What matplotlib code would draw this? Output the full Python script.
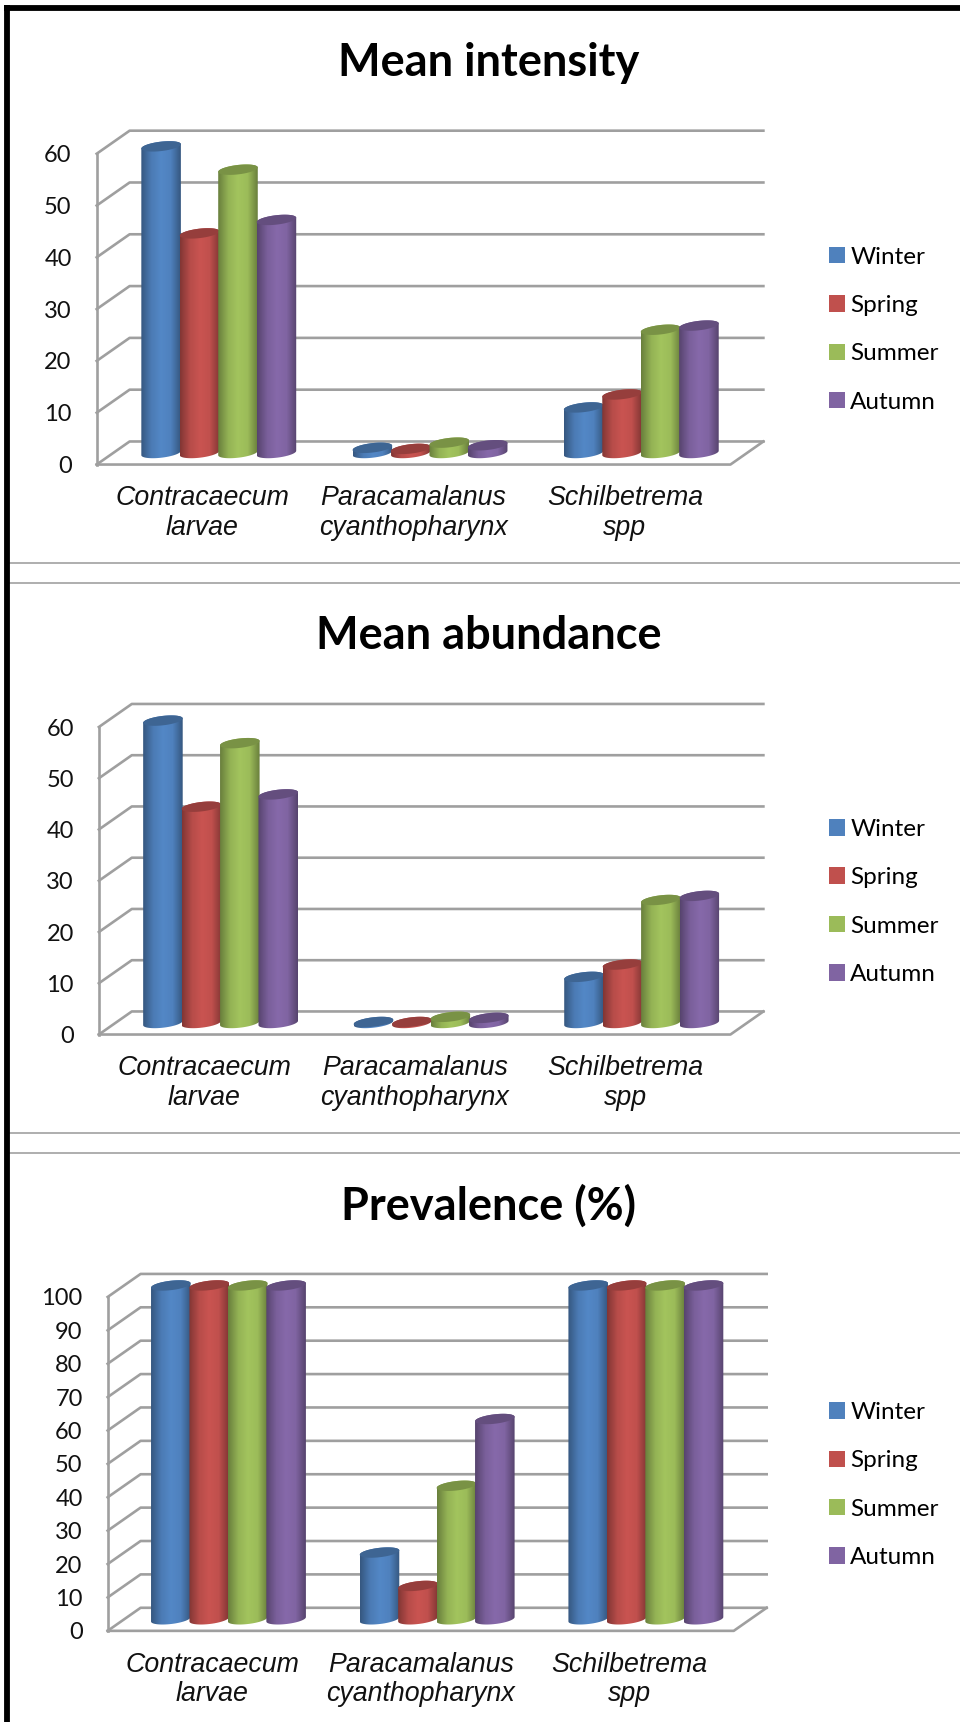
import numpy as np
import matplotlib
matplotlib.use('Agg')
import matplotlib.pyplot as plt
from matplotlib.colors import LinearSegmentedColormap, to_rgb
from matplotlib.lines import Line2D
from matplotlib.patches import Patch, PathPatch, Polygon
from matplotlib.path import Path

categories = ['Contracaecum\nlarvae', 'Paracamalanus\ncyanthopharynx', 'Schilbetrema\nspp']
seasons = ['Winter', 'Spring', 'Summer', 'Autumn']
colors = ['#4F81BD', '#C0504D', '#9BBB59', '#8064A2']

intensity = [[59.2, 1.0, 8.8], [42.4, 0.8, 11.3], [54.7, 2.0, 23.8], [45, 1.5, 24.6]]
abundance = [[59, 0.2, 9], [42.2, 0.2, 11.4], [54.6, 1.2, 24], [44.6, 1, 24.8]]
prevalence = [[100, 20, 100], [100, 10, 100], [100, 40, 100], [100, 60, 100]]

W, H = 874.0, 1568.0  # coords
GRID = '#9f9f9f'

fig = plt.figure(figsize=(9.6, 17.22), dpi=100)


def fx(x):
    return x / W


def fy(y):
    return 1 - y / H


def arc(cx, cy, a, b, k, t):
    return np.column_stack([cx + a * np.cos(t), cy + b * np.sin(t) + k * np.cos(t)])


def cylinder(ax, cx, h, a, base, b, k, color, z):
    # body with a horizontal shading, clipped to the cylinder outline
    rgb = np.array(to_rgb(color))
    cmap = LinearSegmentedColormap.from_list('c', [rgb * 0.68, rgb * 0.95, rgb * 1.05, rgb * 1.0, rgb * 0.68])
    low = arc(cx, base, a, b, k, np.linspace(np.pi, 2 * np.pi, 30))
    high = arc(cx, base + h, a, b, k, np.linspace(0, np.pi, 30))
    pts = np.vstack([low, high, low[:1]])
    im = ax.imshow(np.linspace(0, 1, 64).reshape(1, -1), cmap=cmap, aspect='auto', zorder=z,
                   extent=[cx - a, cx + a, base - b - k, base + h + b + k], vmin=0, vmax=1)
    im.set_clip_path(PathPatch(Path(pts), transform=ax.transData))
    top = arc(cx, base + h, a, b, k, np.linspace(0, 2 * np.pi, 60))
    ax.add_patch(Polygon(top, closed=True, fc=rgb * 0.78, ec='none', zorder=z + 0.1))


def panel(title, values, ticks, left, right, front, y0, ytop, back0, title_y, legend_y):
    ymax = ticks[-1]
    per_px = ymax / (y0 - ytop)  # value units for one px
    cat_px = (front - left) / 3.0
    dx = (right - front) / cat_px
    dy = (y0 - back0) * per_px
    backtop = ytop - (y0 - back0)

    ax = fig.add_axes([fx(left), fy(y0), (right - left) / W, (y0 - backtop) / H])
    ax.patch.set_alpha(0)
    for s in ax.spines.values():
        s.set_visible(False)

    # walls and floor
    for v in ticks:
        ax.plot([0, dx, 3 + dx], [v, v + dy, v + dy], color=GRID, lw=1.9, zorder=1, clip_on=False)
    ax.plot([0, 0], [0, ymax], color=GRID, lw=1.9, zorder=1, clip_on=False)
    ax.plot([0, 3, 3 + dx], [0, 0, dy], color=GRID, lw=1.9, zorder=1, clip_on=False)

    w = 35.0 / cat_px
    for j, series in enumerate(values):
        for i, v in enumerate(series):
            cx = i + dx / 2 + 0.5 + (j - 1.5) * w
            cylinder(ax, cx, v, 18.0 / cat_px, dy / 2, 4.3 * per_px, 2.0 * per_px, colors[j], 3 + j)

    ax.set_xlim(0, 3 + dx)
    ax.set_ylim(0, ymax + dy)
    ax.set_yticks(ticks)
    ax.set_yticklabels([str(t) for t in ticks], fontfamily='Lato', fontsize=17, color='#111111',
                       va='center_baseline')
    ax.set_xticks(np.arange(3) + 0.5)
    ax.set_xticklabels(categories, fontfamily='Liberation Sans', fontstyle='italic', fontsize=19.3,
                       linespacing=1.16, color='#111111')
    ax.tick_params(axis='y', length=0, pad=18)
    ax.tick_params(axis='x', length=0, pad=15)

    fig.text(fx(445), fy(title_y), title, ha='center', va='center', fontfamily='Lato',
             fontweight='bold', fontsize=32.5, color='black')

    handles = [Patch(fc=c, ec='none') for c in colors]
    fig.legend(handles, seasons, loc='upper left', bbox_to_anchor=(fx(748.5), fy(legend_y)), frameon=False,
               prop={'family': 'Lato', 'size': 17.5}, handlelength=0.66, handleheight=0.66,
               handletextpad=0.2, labelspacing=1.125, borderpad=0.3, borderaxespad=0)


panel('Mean intensity', intensity, [0, 10, 20, 30, 40, 50, 60], 88, 695, 665, 423, 140, 402, 57, 218)
panel('Mean abundance', abundance, [0, 10, 20, 30, 40, 50, 60], 90, 695, 665, 942, 662, 921, 579, 739)
panel('Prevalence (%)', prevalence, list(range(0, 101, 10)), 98, 698, 668, 1485, 1181, 1464, 1098, 1270)

# outer frame and separators of the pasted charts
for y in [513, 531, 1032, 1050]:
    fig.add_artist(Line2D([fx(9), 1], [fy(y), fy(y)], color='#a8a8a8', lw=1.3))
fig.add_artist(Line2D([fx(6.5), fx(6.5)], [0, fy(5)], color='black', lw=4.2, solid_capstyle='butt'))
fig.add_artist(Line2D([fx(4), 1], [fy(7.5), fy(7.5)], color='black', lw=4.2, solid_capstyle='butt'))

fig.savefig('out.png', dpi=100)
